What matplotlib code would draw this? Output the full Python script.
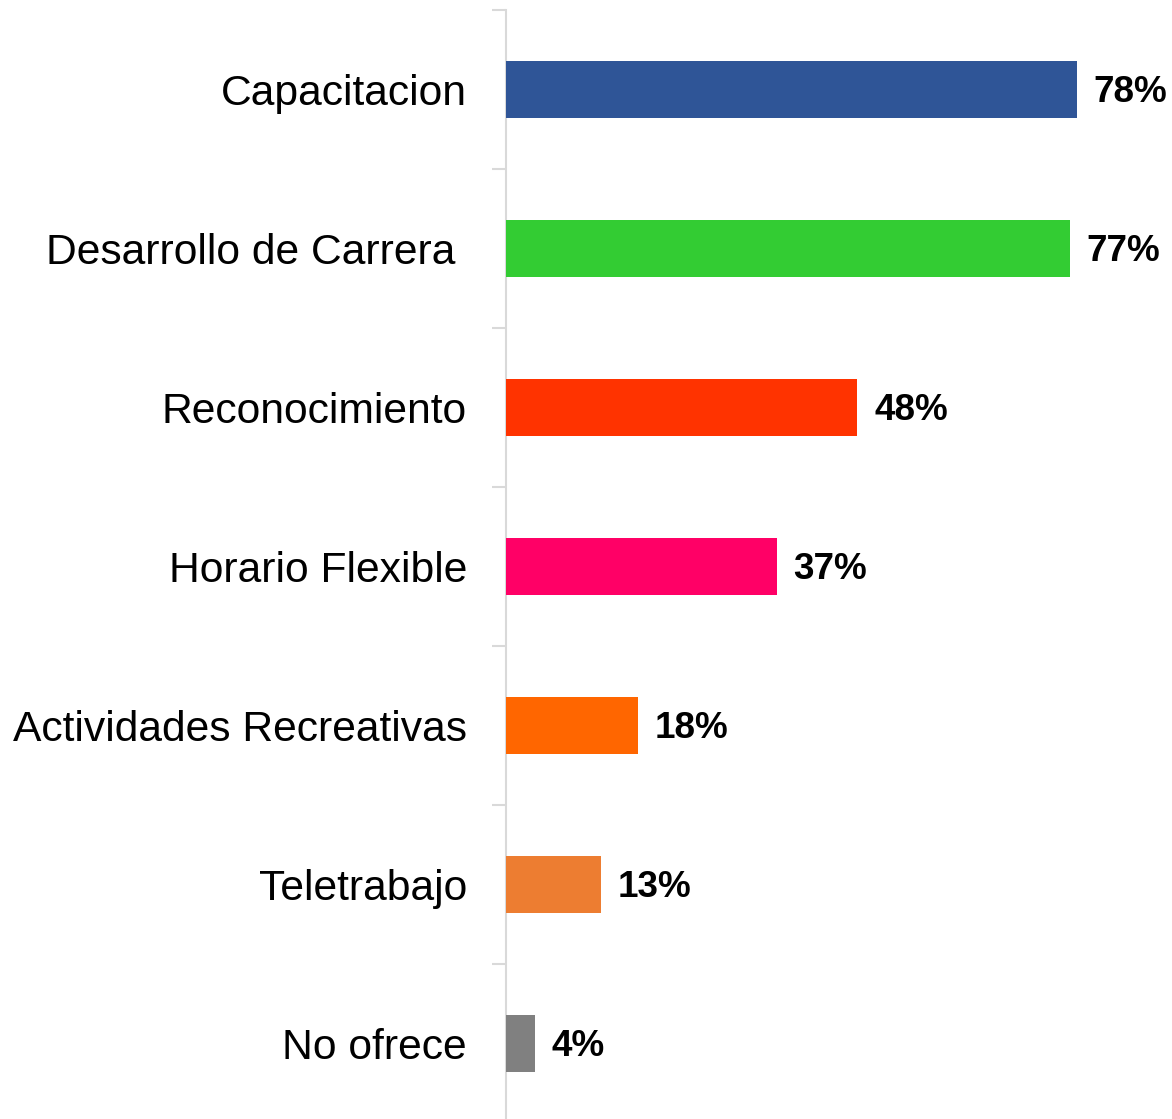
import matplotlib
matplotlib.use("Agg")
import matplotlib.pyplot as plt
import numpy as np

categories = ["Capacitacion", "Desarrollo de Carrera ", "Reconocimiento", "Horario Flexible",
              "Actividades Recreativas", "Teletrabajo", "No ofrece"]
values = [78, 77, 48, 37, 18, 13, 4]
colors = ["#2F5597", "#33CC33", "#FF3300", "#FF0066", "#FF6600", "#ED7D31", "#808080"]

plt.rcParams['font.family'] = ['Liberation Sans', 'DejaVu Sans']

W, H = 1172, 1119
fig = plt.figure(figsize=(W/100, H/100), dpi=100)
left = 506 / W
top_px, bot_px = 10, 1123
ax = fig.add_axes([left, 1 - bot_px/H, 1 - left, (bot_px - top_px)/H])

n = len(categories)
y = np.arange(n)
ax.barh(y, values, height=0.36, color=colors, zorder=3)
ax.set_ylim(n - 0.5, -0.5)
ax.set_xlim(0, (W - 506) / 7.32)

ax.set_yticks(y)
ax.set_yticklabels(categories, fontsize=30.7)
ax.tick_params(axis='y', which='major', length=0, pad=28)
ax.set_yticks(np.arange(-0.5, n, 1), minor=True)
ax.tick_params(axis='y', which='minor', length=10, width=1.5, color='#D9D9D9')
ax.set_xticks([])
for s in ['top', 'right', 'bottom']:
    ax.spines[s].set_visible(False)
ax.spines['left'].set_color('#D9D9D9')
ax.spines['left'].set_linewidth(1.5)

for yi, v in zip(y, values):
    ax.annotate(f"{v}%", xy=(v, yi), xytext=(12, -2.5), textcoords='offset points',
                va='center', ha='left', fontsize=26.6, fontweight='bold', color='black')

fig.savefig("out.png", dpi=100)
